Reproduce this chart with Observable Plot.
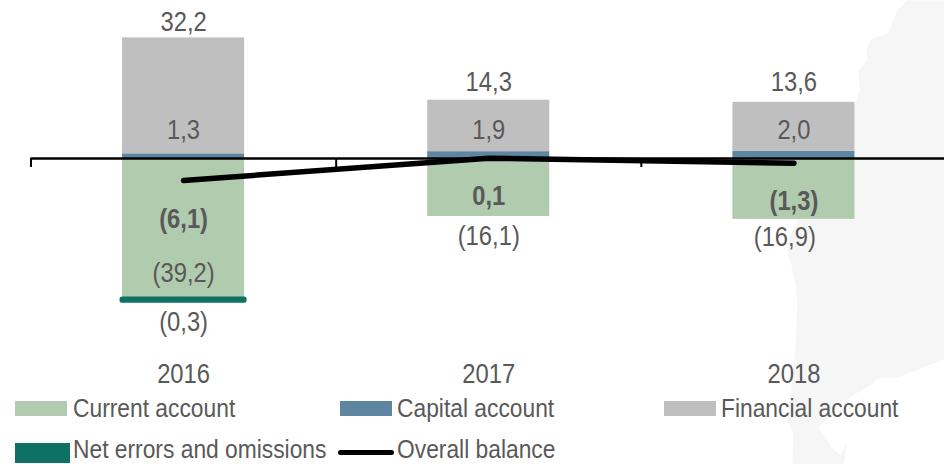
<!DOCTYPE html>
<html>
<head>
<meta charset="utf-8">
<script src="https://cdn.jsdelivr.net/npm/d3@7"></script>
<script src="https://cdn.jsdelivr.net/npm/@observablehq/plot@0.6"></script>
<style>
  html,body{margin:0;padding:0;background:#fff;}
  #wrap{position:relative;width:944px;height:464px;overflow:hidden;font-family:"Liberation Sans",sans-serif;}
  #wrap svg{display:block;position:absolute;left:0;top:0;}
  .lg{position:absolute;font-size:26px;line-height:30px;color:#595959;white-space:nowrap;transform:scaleX(0.877);transform-origin:left center;}
  .sw{position:absolute;}
</style>
</head>
<body>
<div id="wrap"></div>
<script>
const years = ["2016", "2017", "2018"];
const currentAccount = [-39.2, -16.1, -16.9];
const capitalAccount = [1.3, 1.9, 2.0];
const financialAccount = [32.2, 14.3, 13.6];
const netErrors = [-0.3, 0, 0];
const overallBalance = [-6.1, 0.1, -1.3];

const financialLabels = ["32,2", "14,3", "13,6"];
const capitalLabels = ["1,3", "1,9", "2,0"];
const currentLabels = ["(39,2)", "(16,1)", "(16,9)"];
const balanceLabels = ["(6,1)", "0,1", "(1,3)"];
const netLabels = ["(0,3)"];

// label anchor heights, in axis units
const financialLabelY = [37.8, 21.1, 21.1];
const capitalLabelY = [7.8, 7.8, 7.8];
const currentLabelY = [-32, -21.7, -22];
const currentLabelShift = [0, 0, -0.03];
const balanceLabelY = [-16.8, -10.6, -12];
const netLabelY = [-45.6];
const yearLabelY = -60;

// faint map silhouette behind the chart
const coastX = [906,897,887,870,866,867,858,859,855,787,787,791,795,797,795,790,787,793,792,843,847,840,831,818,840,872,877,897,946,946];
const coastY = [0,10,33,39,50,60,70,90,102,240,253,265,285,303,347,393,420,433,464,464,440,455,447,427,403,383,378,377,358,0];
const toX = px => (px - 30.5) / 305.17;
const toY = py => (158 - py) / 3.6;
const coast = coastX.map((x, i) => ({x: toX(x), y: toY(coastY[i])}));

const C = {current:"#b0cbae", capital:"#5f86a1", financial:"#bfbfbf", net:"#0f7065", text:"#595959"};
const rows = years.map((year, i) => ({year, i, cur:currentAccount[i], cap:capitalAccount[i], fin:financialAccount[i], net:netErrors[i], bal:overallBalance[i]}));
const font = "Liberation Sans, sans-serif";
const bx1 = d => d.i + 0.3, bx2 = d => d.i + 0.7, mid = d => d.i + 0.5;

const chart = Plot.plot({
  width: 944, height: 464,
  margin: 0,
  x: {domain: [0, 3], range: [30.5, 946], axis: null},
  y: {domain: [-85, 43.89], range: [464, 0], axis: null},
  style: {background: "transparent", fontFamily: font},
  marks: [
    Plot.line(coast, {x: "x", y: "y", fill: "#f6f6f6", stroke: "none"}),
    Plot.rectY(rows, {x1: bx1, x2: bx2, y1: 0, y2: "cur", fill: C.current}),
    Plot.rectY(rows, {x1: bx1, x2: bx2, y1: 0, y2: "cap", fill: C.capital}),
    Plot.rectY(rows, {x1: bx1, x2: bx2, y1: "cap", y2: d => d.cap + d.fin, fill: C.financial}),
    Plot.rectY(rows.filter(d => d.net !== 0), {x1: bx1, x2: bx2, y1: "cur", y2: d => d.cur + d.net, fill: C.net, stroke: C.net, strokeWidth: 5, strokeLinejoin: "round"}),
    Plot.ruleY([0], {x1: 0, x2: 3, stroke: "#000", strokeWidth: 2.4}),
    Plot.ruleX([0, 1, 2, 3], {y1: 0, y2: -2.5, stroke: "#000", strokeWidth: 2}),
    Plot.line(rows, {x: mid, y: "bal", stroke: "#000", strokeWidth: 5.5, strokeLinecap: "round", strokeLinejoin: "round"}),
    Plot.text(rows, {x: mid, y: (d) => financialLabelY[d.i], text: d => financialLabels[d.i], fontSize: 27, fill: C.text}),
    Plot.text(rows, {x: mid, y: (d) => capitalLabelY[d.i], text: d => capitalLabels[d.i], fontSize: 27, fill: C.text}),
    Plot.text(rows, {x: d => mid(d) + currentLabelShift[d.i], y: (d) => currentLabelY[d.i], text: d => currentLabels[d.i], fontSize: 27, fill: C.text}),
    Plot.text(rows, {x: mid, y: (d) => balanceLabelY[d.i], text: d => balanceLabels[d.i], fontSize: 27, fontWeight: "bold", fill: C.text}),
    Plot.text(netLabels, {x: 0.5, y: netLabelY[0], text: d => d, fontSize: 27, fill: C.text}),
    Plot.text(rows, {x: mid, y: yearLabelY, text: "year", fontSize: 27, fill: C.text})
  ]
});
const wrap = document.getElementById("wrap");
wrap.appendChild(chart);

// the reference uses a condensed face: narrow each label in place
d3.select(chart).selectAll("text").each(function () {
  const len = this.getComputedTextLength();
  this.setAttribute("textLength", (len * 0.88).toFixed(1));
  this.setAttribute("lengthAdjust", "spacingAndGlyphs");
});

const legendItems = [
  {name:"Current account", color:C.current, sx:15, sy:401, sw:52, sh:15, tx:73, ty:393},
  {name:"Capital account", color:C.capital, sx:340, sy:401, sw:52, sh:15, tx:397, ty:393},
  {name:"Financial account", color:C.financial, sx:664, sy:401, sw:52, sh:15, tx:721, ty:393},
  {name:"Net errors and omissions", color:C.net, sx:15, sy:443, sw:55, sh:20, tx:73, ty:434},
  {name:"Overall balance", color:"#000", sx:338, sy:450, sw:56, sh:5, tx:397, ty:434, round:true}
];
for (const it of legendItems) {
  const s = document.createElement("div");
  s.className = "sw";
  s.style.cssText = `left:${it.sx}px;top:${it.sy}px;width:${it.sw}px;height:${it.sh}px;background:${it.color};border-radius:${it.round ? 3 : 0}px`;
  wrap.appendChild(s);
  const t = document.createElement("div");
  t.className = "lg";
  t.style.left = it.tx + "px";
  t.style.top = it.ty + "px";
  t.textContent = it.name;
  wrap.appendChild(t);
}
</script>
</body>
</html>
